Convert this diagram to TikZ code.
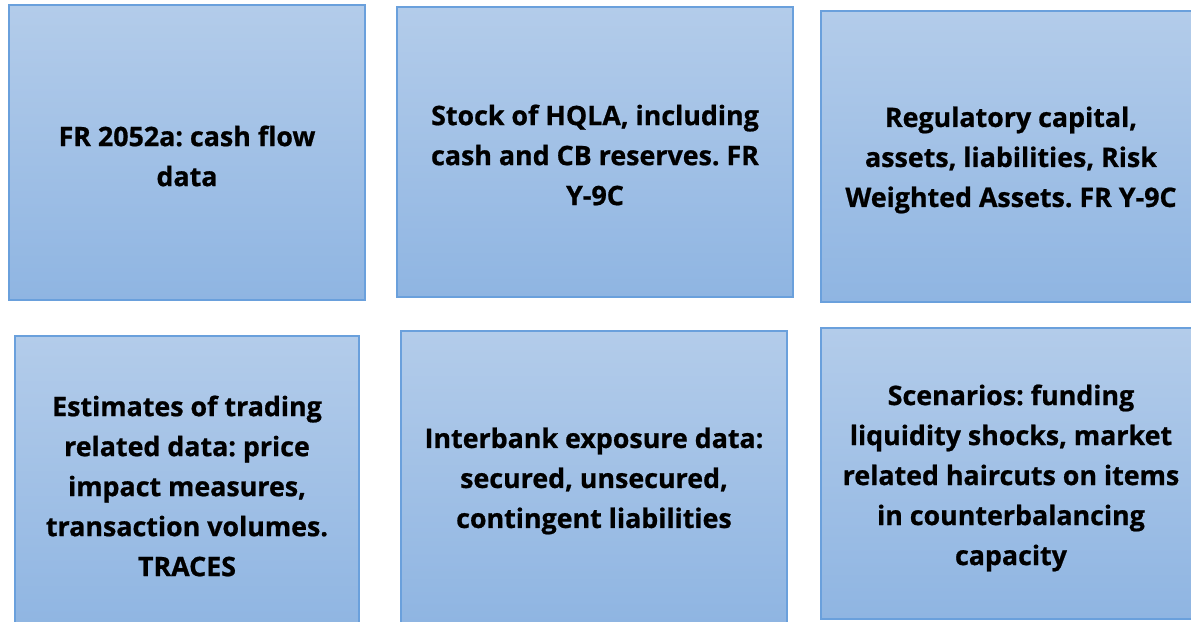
\documentclass[tikz,border=0pt]{standalone}
\usepackage{fontspec}
\setmainfont{Open Sans}[BoldFeatures={FakeBold=0.8}]
\definecolor{boxtop}{RGB}{179,204,234}
\definecolor{boxbot}{RGB}{143,181,226}
\definecolor{boxline}{RGB}{106,160,220}
\begin{document}
\frenchspacing
\begin{tikzpicture}[x=1pt,y=-1pt,
  infobox/.style={draw=boxline, line width=1.2pt, top color=boxtop, bottom color=boxbot,
    inner sep=0pt},
  infotext/.style={align=center, inner sep=0pt, text=black,
    font=\bfseries\fontsize{26.8}{40}\selectfont}]
\useasboundingbox (0,0) rectangle (1191,621);
\node[infobox, minimum width=356, minimum height=295] (a) at (187,152.5) {};
\node[infotext] (at) at (187,156) {FR 2052a: cash flow\\data};
\node[infobox, minimum width=396, minimum height=290] (b) at (595,152) {};
\node[infotext] (bt) at (595,155) {Stock of HQLA, including\\cash and CB reserves. FR\\Y-9C};
\node[infobox, minimum width=380, minimum height=291] (c) at (1011,156.5) {};
\node[infotext] (ct) at (1011,160) {Regulatory capital,\\assets, liabilities, Risk\\Weighted Assets. FR Y-9C};
\node[infobox, minimum width=344, minimum height=294] (d) at (187,483) {};
\node[infotext] (dt) at (187,486) {Estimates of trading\\related data: price\\impact measures,\\transaction volumes.\\TRACES};
\node[infobox, minimum width=386, minimum height=292] (e) at (594,477) {};
\node[infotext] (et) at (594,481) {Interbank exposure data:\\secured, unsecured,\\contingent liabilities};
\node[infobox, minimum width=380, minimum height=291] (f) at (1011,473.5) {};
\node[infotext] (ft) at (1011,478) {Scenarios: funding\\liquidity shocks, market\\related haircuts on items\\in counterbalancing\\capacity};
\end{tikzpicture}
\end{document}
